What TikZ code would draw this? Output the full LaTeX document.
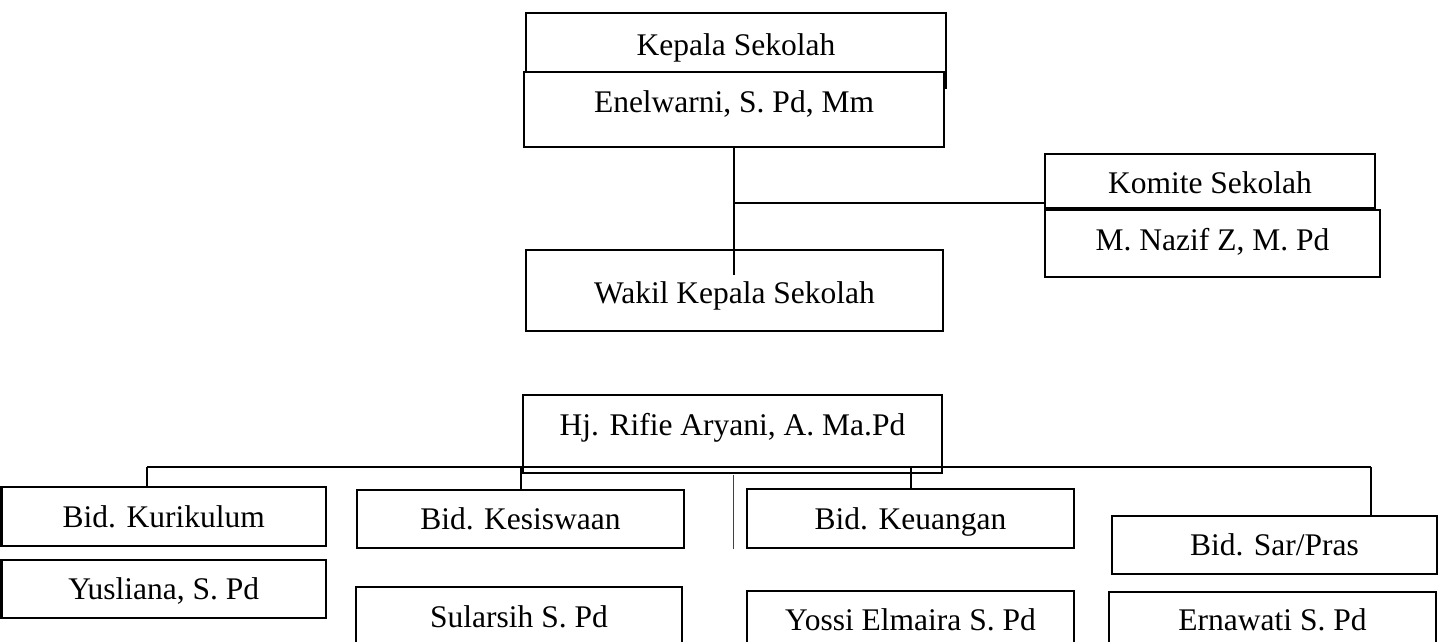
\documentclass[tikz,border=0pt]{standalone}
\usepackage{fontspec}
\setmainfont{Liberation Serif}
\tikzset{
  orgbox/.style={draw=black, line width=2.2pt, fill=white, inner sep=0pt, outer sep=0pt,
    anchor=north, font=\fontsize{31.5}{36}\selectfont},
  link/.style={draw=black, line width=2pt},
  thinlink/.style={draw=black!75, line width=1pt}
}
% #1 name, #2 left, #3 top, #4 right, #5 bottom, #6 baseline, #7 text
\newcommand{\mkbox}[7]{%
  \pgfmathsetmacro{\mkbx}{(#2+#4)/2}%
  \pgfmathsetmacro{\mkbw}{#4-#2}%
  \pgfmathsetmacro{\mkbth}{#6-#3}%
  \pgfmathsetmacro{\mkbtd}{#5-#6}%
  \node[orgbox, minimum width=\mkbw pt, text height=\mkbth pt, text depth=\mkbtd pt] (#1) at (\mkbx,#3) {#7};%
}
\begin{document}
\begin{tikzpicture}[x=1pt, y=-1pt]
\useasboundingbox (0,0) rectangle (1438,641);
% top
\mkbox{kepala}{526}{13}{946}{88}{55}{Kepala Sekolah}
\mkbox{enel}{524}{72}{944}{147}{112}{Enelwarni, S. Pd, Mm}
\mkbox{wakil}{526}{250}{943}{331}{303}{Wakil Kepala Sekolah}
\mkbox{komite}{1045}{154}{1375}{208}{193}{Komite Sekolah}
\mkbox{nazif}{1045}{210}{1380}{277}{250}{M. Nazif Z, M. Pd}
% connectors top
\path (enel.south) ++(0,128) coordinate (wk);
\draw[link] (enel.south) -- (wk);
\coordinate (kjoin) at (1045,203);
\draw[link] (enel.south |- kjoin) -- (kjoin);
% middle
\mkbox{hj}{523}{395}{942}{473}{435}{Hj. Rifie Aryani, A. Ma.Pd}
% bottom
\mkbox{kur}{1.5}{487}{326}{546}{527}{Bid. Kurikulum}
\mkbox{yus}{1.5}{560}{326}{618}{599}{Yusliana, S. Pd}
\mkbox{kes}{357}{490}{684}{548}{529}{Bid. Kesiswaan}
\mkbox{sul}{356}{587}{682}{648}{627}{Sularsih S. Pd}
\mkbox{keu}{747}{489}{1074}{548}{529}{Bid. Keuangan}
\mkbox{yos}{747}{591}{1074}{648}{630}{Yossi Elmaira S. Pd}
\mkbox{sar}{1112}{516}{1437}{574}{555}{Bid. Sar/Pras}
\mkbox{ern}{1109}{592}{1436}{648}{630}{Ernawati S. Pd}
% bus
\coordinate (busL) at (147,467);
\coordinate (busR) at (1371,467);
\draw[link] (busL) -- (busR);
\draw[link] (busL) -- (busL |- kur.north);
\draw[link] (kes.north |- busL) -- (kes.north);
\draw[link] (keu.north |- busL) -- (keu.north);
\draw[link] (busR) -- (busR |- sar.north);
\coordinate (tA) at (733,475);
\coordinate (tB) at (733,549);
\draw[thinlink] (tA) -- (tB);
\end{tikzpicture}
\end{document}
